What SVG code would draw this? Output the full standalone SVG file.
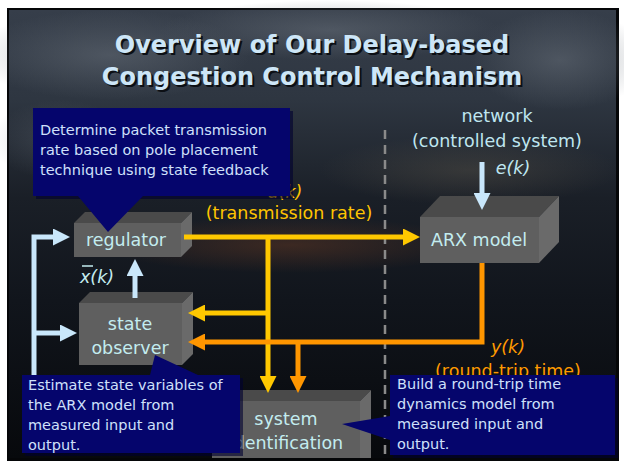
<svg xmlns="http://www.w3.org/2000/svg" width="624" height="463" viewBox="0 0 624 463">
  <defs>
    <style>
      .title { font-family: "DejaVu Sans", "Liberation Sans", sans-serif; font-weight: bold; font-size: 24px; fill: #cde6f7; text-anchor: middle; }
      .title-shadow { font-family: "DejaVu Sans", "Liberation Sans", sans-serif; font-weight: bold; font-size: 24px; fill: #0c0f14; text-anchor: middle; }
      .box-label { font-family: "DejaVu Sans", "Liberation Sans", sans-serif; font-size: 17.5px; fill: #c3ecef; text-anchor: middle; }
      .net-label { font-family: "DejaVu Sans", "Liberation Sans", sans-serif; font-size: 17.5px; fill: #bfe6f0; text-anchor: middle; }
      .sig-u { font-family: "DejaVu Sans", "Liberation Sans", sans-serif; font-size: 17.5px; fill: #ffc400; text-anchor: middle; }
      .sig-y { font-family: "DejaVu Sans", "Liberation Sans", sans-serif; font-size: 17.5px; fill: #ff9a00; text-anchor: middle; }
      .ital { font-style: italic; }
      .note { font-family: "DejaVu Sans", "Liberation Sans", sans-serif; font-size: 14.5px; fill: #cfe0fb; }
      .callout { fill: #05056c; }
      .callout-shadow { fill: #000030; opacity: 0.6; }
      .top { fill: #4a4a4a; }
      .front { fill: #5f5f5f; }
      .side { fill: #6a6a6a; }
      .wire { fill: none; stroke-width: 5; stroke-linejoin: miter; }
      .w-yellow { stroke: #ffc800; }
      .w-orange { stroke: #ff9600; }
      .w-blue { stroke: #c9e7fb; }
    </style>
    <linearGradient id="sky" x1="0" y1="0" x2="0" y2="1">
      <stop offset="0" stop-color="#363e4a"/>
      <stop offset="0.2" stop-color="#2e3641"/>
      <stop offset="0.42" stop-color="#1a1f27"/>
      <stop offset="0.65" stop-color="#11151c"/>
      <stop offset="1" stop-color="#07090c"/>
    </linearGradient>
    <radialGradient id="cloud" cx="0.5" cy="0.5" r="0.5">
      <stop offset="0" stop-color="#6a727c" stop-opacity="0.5"/>
      <stop offset="1" stop-color="#6a727c" stop-opacity="0"/>
    </radialGradient>
    <radialGradient id="glow" cx="0.5" cy="0.5" r="0.5">
      <stop offset="0" stop-color="#6a3a22" stop-opacity="0.45"/>
      <stop offset="1" stop-color="#6a3a22" stop-opacity="0"/>
    </radialGradient>
    <radialGradient id="haze" cx="0.5" cy="0.5" r="0.5">
      <stop offset="0" stop-color="#5a5448" stop-opacity="0.4"/>
      <stop offset="1" stop-color="#5a5448" stop-opacity="0"/>
    </radialGradient>
    <marker id="head-yellow" viewBox="0 0 17 17" refX="7" refY="8.5" markerWidth="17" markerHeight="17" markerUnits="userSpaceOnUse" orient="auto">
      <path d="M0,0 L17,8.5 L0,17 Z" fill="#ffc800"/>
    </marker>
    <marker id="head-orange" viewBox="0 0 17 17" refX="7" refY="8.5" markerWidth="17" markerHeight="17" markerUnits="userSpaceOnUse" orient="auto">
      <path d="M0,0 L17,8.5 L0,17 Z" fill="#ff9600"/>
    </marker>
    <marker id="head-blue" viewBox="0 0 17 17" refX="7" refY="8.5" markerWidth="17" markerHeight="17" markerUnits="userSpaceOnUse" orient="auto">
      <path d="M0,0 L17,8.5 L0,17 Z" fill="#c9e7fb"/>
    </marker>
  </defs>

  <!-- page and slide background -->
  <rect x="0" y="0" width="624" height="463" fill="#ffffff"/>
  <rect x="7" y="8" width="612" height="453" fill="#050608"/>
  <rect x="9" y="10" width="607" height="448" fill="url(#sky)"/>
  <ellipse cx="110" cy="55" rx="140" ry="45" fill="url(#cloud)"/>
  <ellipse cx="330" cy="30" rx="170" ry="30" fill="url(#cloud)"/>
  <ellipse cx="560" cy="60" rx="90" ry="50" fill="url(#cloud)"/>
  <ellipse cx="470" cy="170" rx="150" ry="35" fill="url(#haze)"/>
  <ellipse cx="290" cy="245" rx="190" ry="28" fill="url(#glow)"/>
  <ellipse cx="60" cy="140" rx="70" ry="40" fill="url(#cloud)" opacity="0.6"/>

  <!-- title -->
  <g id="title">
    <text class="title-shadow" x="314" y="55">Overview of Our Delay-based</text>
    <text class="title-shadow" x="314" y="87">Congestion Control Mechanism</text>
    <text class="title" x="312" y="53">Overview of Our Delay-based</text>
    <text class="title" x="312" y="85">Congestion Control Mechanism</text>
  </g>

  <!-- boundary between sender and network -->
  <line x1="385" y1="130" x2="385" y2="458" stroke="#8a8a8a" stroke-width="2.5" stroke-dasharray="9 6"/>

  <!-- network label -->
  <g id="network-label">
    <text class="net-label" x="497" y="122">network</text>
    <text class="net-label" x="497" y="147">(controlled system)</text>
    <text class="net-label ital" x="513" y="174">e(k)</text>
  </g>

  <!-- signal labels -->
  <g id="signal-u">
    <text class="sig-u ital" x="285" y="198">u(k)</text>
    <text class="sig-u" x="289" y="219">(transmission rate)</text>
  </g>
  <g id="signal-y">
    <text class="sig-y ital" x="508" y="353">y(k)</text>
    <text class="sig-y" x="508" y="377">(round-trip time)</text>
  </g>
  <g id="signal-xbar">
    <text class="box-label ital" x="80" y="283" style="text-anchor:start">x(k)</text>
    <line x1="82" y1="266" x2="93" y2="266" stroke="#c3ecef" stroke-width="1.5"/>
  </g>

  <!-- regulator -->
  <g id="regulator">
    <polygon class="top" points="74,223 85,212 192,212 181,223"/>
    <polygon class="side" points="181,223 192,212 192,246 181,257"/>
    <rect class="front" x="74" y="223" width="107" height="34"/>
    <text class="box-label" x="126" y="246">regulator</text>
  </g>

  <!-- state observer -->
  <g id="state-observer">
    <polygon class="top" points="79,303 90,292 193,292 182,303"/>
    <polygon class="side" points="182,303 193,292 193,354 182,365"/>
    <rect class="front" x="79" y="303" width="103" height="62"/>
    <text class="box-label" x="130" y="330">state</text>
    <text class="box-label" x="130" y="354">observer</text>
  </g>

  <!-- ARX model -->
  <g id="arx-model">
    <polygon class="top" points="420,217 440,196 559,196 539,217"/>
    <polygon class="side" points="539,217 559,196 559,242 539,263"/>
    <rect class="front" x="420" y="217" width="119" height="46"/>
    <text class="box-label" x="479" y="246">ARX model</text>
  </g>

  <!-- system identification -->
  <g id="system-identification">
    <polygon class="top" points="212,401 223,390 371,390 360,401"/>
    <polygon class="side" points="360,401 371,390 371,458 360,458"/>
    <rect class="front" x="212" y="401" width="148" height="57"/>
    <text class="box-label" x="286" y="425">system</text>
    <text class="box-label" x="286" y="449">identification</text>
  </g>

  <!-- connectors -->
  <g id="connectors">
    <path class="wire w-yellow" d="M184,237 H410" marker-end="url(#head-yellow)"/>
    <path class="wire w-yellow" d="M268,237 V383" marker-end="url(#head-yellow)"/>
    <path class="wire w-yellow" d="M268,313 H198" marker-end="url(#head-yellow)"/>
    <path class="wire w-orange" d="M482,263 V342 H198" marker-end="url(#head-orange)"/>
    <path class="wire w-orange" d="M298,342 V383" marker-end="url(#head-orange)"/>
    <path class="wire w-blue" d="M34,378 V237 H60" marker-end="url(#head-blue)"/>
    <path class="wire w-blue" d="M34,333 H67" marker-end="url(#head-blue)"/>
    <path class="wire w-blue" d="M135,298 V269" marker-end="url(#head-blue)"/>
    <path class="wire w-blue" d="M482,162 V200" marker-end="url(#head-blue)"/>
  </g>

  <!-- callouts -->
  <g id="callout-regulator">
    <path class="callout-shadow" d="M36,111 H293 V199 H36 Z"/>
    <path class="callout" d="M33,108 H290 V196 H143 L108,232 L78,196 H33 Z"/>
    <text class="note" x="40" y="135">Determine packet transmission</text>
    <text class="note" x="40" y="155">rate based on pole placement</text>
    <text class="note" x="40" y="175">technique using state feedback</text>
  </g>

  <g id="callout-observer">
    <path class="callout-shadow" d="M25,378 H243 V456 H25 Z"/>
    <path class="callout" d="M22,375 H150 L155,355 L198,375 H240 V453 H22 Z"/>
    <text class="note" x="28" y="390">Estimate state variables of</text>
    <text class="note" x="28" y="410">the ARX model from</text>
    <text class="note" x="28" y="430">measured input and</text>
    <text class="note" x="28" y="450">output.</text>
  </g>

  <g id="callout-identification">
    <path class="callout-shadow" d="M393,378 H618 V458 H393 Z"/>
    <path class="callout" d="M390,375 H615 V455 H390 V440 L342,424 L390,416 Z"/>
    <text class="note" x="397" y="389">Build a round-trip time</text>
    <text class="note" x="397" y="409">dynamics model from</text>
    <text class="note" x="397" y="429">measured input and</text>
    <text class="note" x="397" y="449">output.</text>
  </g>
</svg>
